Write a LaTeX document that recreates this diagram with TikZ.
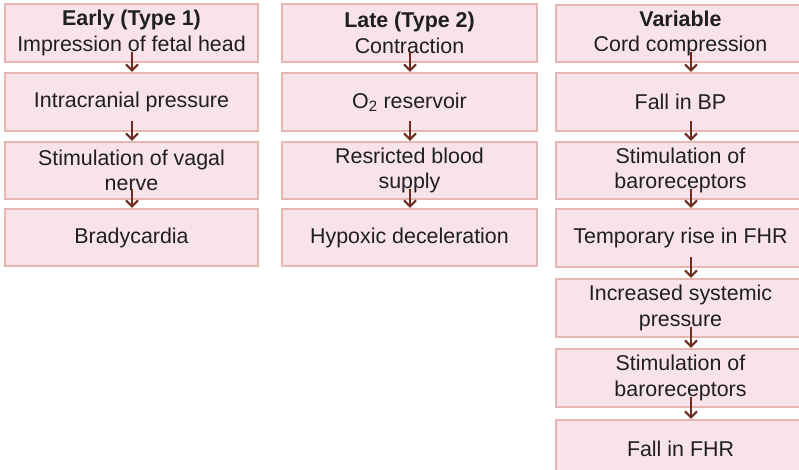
\documentclass[tikz,border=0pt]{standalone}
\usepackage{fontspec}
\setmainfont{Liberation Sans}
\usetikzlibrary{arrows.meta}
\definecolor{boxfill}{RGB}{247,227,233}
\definecolor{boxline}{RGB}{228,184,176}
\definecolor{arrcol}{RGB}{110,43,31}
\tikzset{
  flowbox/.style={draw=boxline, fill=boxfill, line width=1.4pt, rectangle, inner sep=0pt,
    align=center, text=black!88, font=\fontsize{21.4}{25.5}\selectfont},
  flowarr/.style={draw=arrcol, line width=2pt, -{Straight Barb[length=6pt,width=12pt]}},
}
\begin{document}
\begin{tikzpicture}[x=1pt,y=-1pt]
\useasboundingbox (0,0) rectangle (799,469);
\clip (0,0) rectangle (799,469);
% column 1
\node[flowbox, minimum width=253pt, minimum height=58pt] (a1) at (131.5,33) {\textbf{Early (Type 1)}\\Impression of fetal head};
\node[flowbox, minimum width=253pt, minimum height=58pt] (a2) at (131.5,102) {Intracranial pressure};
\node[flowbox, minimum width=253pt, minimum height=57pt] (a3) at (131.5,170.5) {Stimulation of vagal\\nerve};
\node[flowbox, minimum width=253pt, minimum height=57pt] (a4) at (131.5,237.5) {Bradycardia};
% column 2
\node[flowbox, minimum width=255pt, minimum height=58pt] (b1) at (409.5,33) {\textbf{Late (Type 2)}\\Contraction};
\node[flowbox, minimum width=255pt, minimum height=58pt] (b2) at (409.5,102) {O\textsubscript{2} reservoir};
\node[flowbox, minimum width=255pt, minimum height=57pt] (b3) at (409.5,170.5) {Resricted blood\\supply};
\node[flowbox, minimum width=255pt, minimum height=57pt] (b4) at (409.5,237.5) {Hypoxic deceleration};
% column 3
\node[flowbox, minimum width=249pt, minimum height=57pt] (c1) at (680.5,33.5) {\textbf{Variable}\\Cord compression};
\node[flowbox, minimum width=249pt, minimum height=58pt] (c2) at (680.5,102) {Fall in BP};
\node[flowbox, minimum width=249pt, minimum height=57pt] (c3) at (680.5,170.5) {Stimulation of\\baroreceptors};
\node[flowbox, minimum width=249pt, minimum height=58pt] (c4) at (680.5,238) {Temporary rise in FHR};
\node[flowbox, minimum width=249pt, minimum height=58pt] (c5) at (680.5,308) {Increased systemic\\pressure};
\node[flowbox, minimum width=249pt, minimum height=58pt] (c6) at (680.5,378) {Stimulation of\\baroreceptors};
\node[flowbox, minimum width=249pt, minimum height=58pt] (c7) at (680.5,449) {Fall in FHR};
% arrows
\foreach \u/\v in {a1/a2,a2/a3,a3/a4,b1/b2,b2/b3,b3/b4}
  \draw[flowarr] ([xshift=0.5pt,yshift=11pt]\u.south) -- ([xshift=0.5pt,yshift=0.5pt]\v.north);
\foreach \u/\v in {c1/c2,c2/c3,c3/c4,c4/c5,c5/c6,c6/c7}
  \draw[flowarr] ([xshift=10.5pt,yshift=11pt]\u.south) -- ([xshift=10.5pt,yshift=0.5pt]\v.north);
\end{tikzpicture}
\end{document}
